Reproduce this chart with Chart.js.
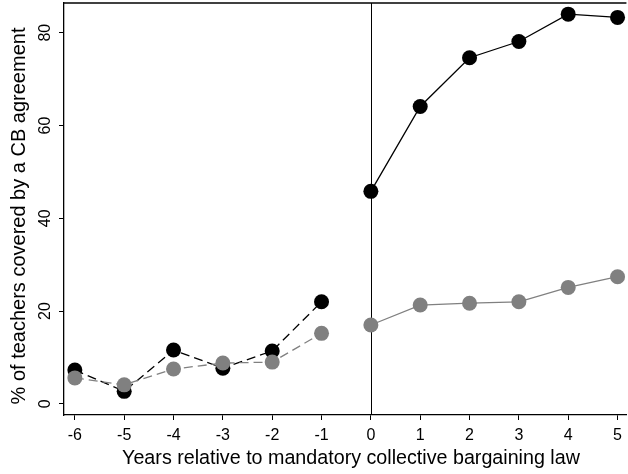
<!DOCTYPE html>
<html>
<head>
<meta charset="utf-8">
<script src="https://cdn.jsdelivr.net/npm/chart.js@4/dist/chart.umd.min.js"></script>
<style>
  html, body { margin: 0; padding: 0; background: #fff; }
  #wrap { width: 628px; height: 474px; }
</style>
</head>
<body>
<div id="wrap"><canvas id="cb-chart"></canvas></div>
<script>
// Years relative to the law
const yearsBefore = [-6, -5, -4, -3, -2, -1];
const yearsAfter = [0, 1, 2, 3, 4, 5];

// Black series
const blackBefore = [7.3, 2.7, 11.6, 7.7, 11.4, 22.0];
const blackAfter = [45.8, 64.1, 74.6, 78.1, 84.0, 83.3];

// Grey series
const greyBefore = [5.6, 4.1, 7.5, 8.8, 9.0, 15.2];
const greyAfter = [17.0, 21.3, 21.7, 22.0, 25.1, 27.4];

// Tick labels and axis titles
const xTicks = [-6, -5, -4, -3, -2, -1, 0, 1, 2, 3, 4, 5];
const yTicks = [0, 20, 40, 60, 80];
const xTitle = 'Years relative to mandatory collective bargaining law';
const yTitle = '% of teachers covered by a CB agreement';

const BLACK = '#000000';
const GREY = '#808080';
const FONT = 'Liberation Sans, Arial, sans-serif';

function toPoints(xs, ys) {
    return xs.map((x, i) => ({ x: x, y: ys[i] }));
}

function series(xs, ys, color, dashed) {
    return {
        data: toPoints(xs, ys),
        borderColor: color,
        backgroundColor: color,
        pointBackgroundColor: color,
        pointBorderWidth: 0,
        pointRadius: 7.5,
        borderWidth: 1.3,
        borderDash: dashed ? [9, 5] : [],
        tension: 0
    };
}

// Top frame, zero line, rotated y tick labels and the axis titles
const framePlugin = {
    id: 'frame',
    beforeDatasetsDraw(chart) {
        const { ctx, chartArea: a, scales } = chart;
        ctx.save();
        ctx.strokeStyle = '#000';
        ctx.lineWidth = 1;
        const x0 = Math.round(scales.x.getPixelForValue(0)) + 0.5;
        ctx.beginPath();
        ctx.moveTo(x0, a.top);
        ctx.lineTo(x0, a.bottom);
        ctx.stroke();
        ctx.restore();
    },
    afterDraw(chart) {
        const { ctx, chartArea: a, scales } = chart;
        ctx.save();
        ctx.strokeStyle = '#000';
        ctx.lineWidth = 1.3;
        ctx.beginPath();
        ctx.moveTo(a.left, a.top);
        ctx.lineTo(a.right, a.top);
        ctx.stroke();
        ctx.fillStyle = '#000';
        ctx.textAlign = 'center';
        ctx.textBaseline = 'middle';

        ctx.font = '16px ' + FONT;
        yTicks.forEach(v => {
            const y = scales.y.getPixelForValue(v);
            ctx.save();
            ctx.translate(46, y);
            ctx.rotate(-Math.PI / 2);
            ctx.fillText(String(v), 0, 0);
            ctx.restore();
        });

        ctx.font = '20px ' + FONT;
        ctx.save();
        ctx.translate(19, 216);
        ctx.rotate(-Math.PI / 2);
        ctx.fillText(yTitle, 0, 0);
        ctx.restore();

        ctx.font = '19.7px ' + FONT;
        ctx.fillText(xTitle, 351, 459);
        ctx.restore();
    }
};

new Chart(document.getElementById('cb-chart'), {
    type: 'line',
    data: {
        datasets: [
            series(yearsBefore, greyBefore, GREY, true),
            series(yearsAfter, greyAfter, GREY, false),
            series(yearsBefore, blackBefore, BLACK, true),
            series(yearsAfter, blackAfter, BLACK, false)
        ]
    },
    options: {
        responsive: true,
        maintainAspectRatio: false,
        devicePixelRatio: 1,
        animation: false,
        clip: false,
        layout: { autoPadding: false, padding: { top: 3, right: 0, left: 0, bottom: 0 } },
        plugins: {
            legend: { display: false },
            tooltip: { enabled: false }
        },
        scales: {
            x: {
                type: 'linear',
                min: -6.22,
                max: 5.18,
                afterBuildTicks: s => { s.ticks = xTicks.map(v => ({ value: v })); },
                afterFit: s => { s.height = 59; },
                grid: { drawOnChartArea: false, drawTicks: true, tickLength: 5, color: '#000', lineWidth: 1 },
                border: { display: true, color: '#000', width: 1.3 },
                ticks: { color: '#000', font: { family: FONT, size: 16 }, padding: 6, maxRotation: 0 },
                title: { display: false }
            },
            y: {
                type: 'linear',
                min: -2.4,
                max: 86.4,
                afterBuildTicks: s => { s.ticks = yTicks.map(v => ({ value: v })); },
                afterFit: s => { s.width = 64; },
                grid: { drawOnChartArea: false, drawTicks: true, tickLength: 5, color: '#000', lineWidth: 1 },
                border: { display: true, color: '#000', width: 1.3 },
                ticks: { display: false },
                title: { display: false }
            }
        }
    },
    plugins: [framePlugin]
});
</script>
</body>
</html>
